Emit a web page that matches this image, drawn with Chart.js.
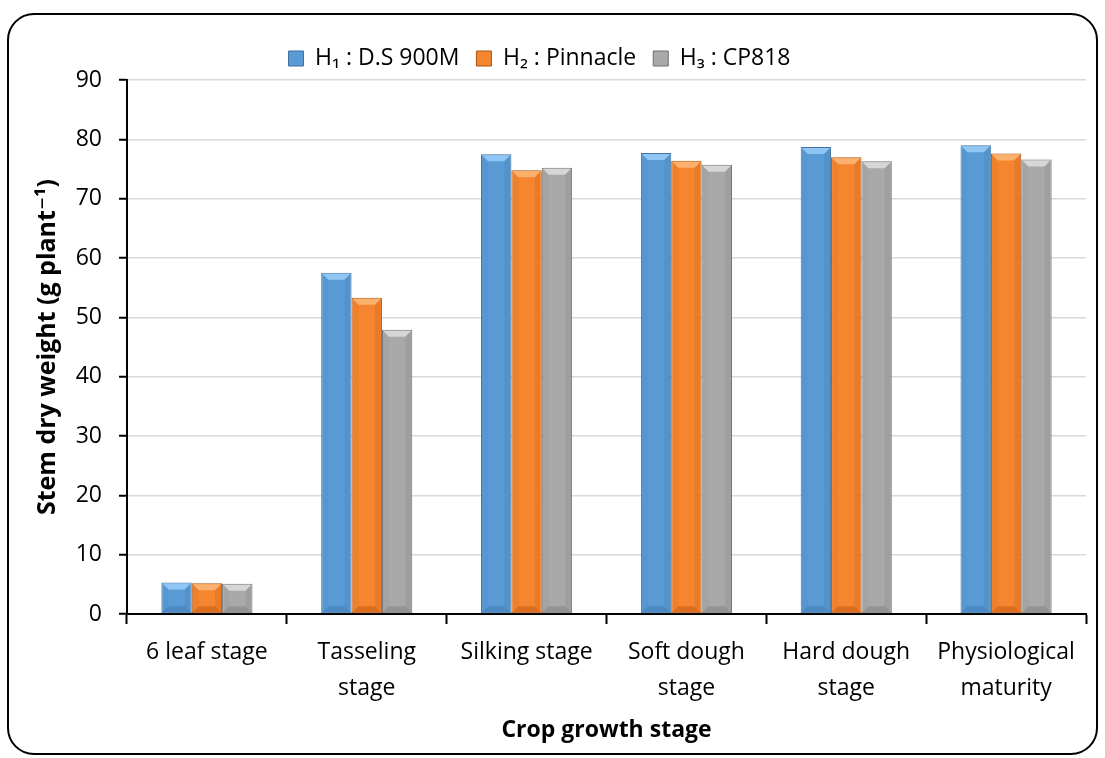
<!DOCTYPE html>
<html>
<head>
<meta charset="utf-8">
<style>
  html, body { margin: 0; padding: 0; background: #ffffff; }
  #wrap { position: relative; width: 1105px; height: 758px; }
  canvas { display: block; }
</style>
<script src="https://cdn.jsdelivr.net/npm/chart.js@4/dist/chart.umd.min.js"></script>
</head>
<body>
<div id="wrap"><canvas id="stemChart" width="1105" height="758"></canvas></div>
<script>
// Growth stages (multi-line labels where the axis wraps them)
const stages = [
  '6 leaf stage',
  ['Tasseling', 'stage'],
  'Silking stage',
  ['Soft dough', 'stage'],
  ['Hard dough', 'stage'],
  ['Physiological', 'maturity']
];

// Hybrid names
const hybridNames = ['H\u2081 : D.S 900M', 'H\u2082 : Pinnacle', 'H\u2083 : CP818'];

// Stem dry weight (g plant-1) per hybrid
const h1Values = [5.3, 57.5, 77.5, 77.7, 78.7, 79.0];
const h2Values = [5.2, 53.3, 74.8, 76.4, 77.0, 77.6];
const h3Values = [5.1, 47.9, 75.2, 75.7, 76.3, 76.6];

// Y axis range and step
const yMin = 0;
const yMax = 90;
const yStep = 10;

const FONT = "'Open Sans', 'DejaVu Sans', sans-serif";

// fill, highlight, shadow, outline
const palettes = [
  { fill: '#5B9BD5', light: '#8FC6F3', dark: '#3F7DB8', edge: '#41719C' },
  { fill: '#F5862F', light: '#FBB06E', dark: '#C85E17', edge: '#A95415' },
  { fill: '#A9A9A9', light: '#D6D6D6', dark: '#858585', edge: '#6E6E6E' }
];

// Rounded frame around the whole figure
const framePlugin = {
  id: 'frame',
  afterDraw(chart) {
    const ctx = chart.ctx;
    ctx.save();
    ctx.lineWidth = 2;
    ctx.strokeStyle = '#000000';
    ctx.beginPath();
    ctx.roundRect(8, 14, chart.width - 16, chart.height - 18, 26);
    ctx.stroke();
    ctx.restore();
  }
};

// Nudge the legend row a little left of the canvas centre
const legendShiftPlugin = {
  id: 'legendShift',
  afterLayout(chart) {
    if (chart.legend) {
      chart.legend.left -= 20;
      chart.legend.right -= 20;
    }
  }
};

// Bevelled faces on each bar, computed from the bar elements' own geometry
const bevelPlugin = {
  id: 'bevel',
  afterDatasetsDraw(chart) {
    const ctx = chart.ctx;
    chart.data.datasets.forEach((ds, di) => {
      const meta = chart.getDatasetMeta(di);
      const pal = palettes[di];
      meta.data.forEach(bar => {
        const p = bar.getProps(['x', 'y', 'base', 'width'], true);
        const x0 = p.x - p.width / 2 + 1;
        const x1 = p.x + p.width / 2 - 1;
        const yt = Math.min(p.y, p.base) + 1;
        const yb = Math.max(p.y, p.base) - 1;
        const b = Math.min(6, (yb - yt) / 2, (x1 - x0) / 2);
        ctx.save();
        // top face
        ctx.fillStyle = pal.light;
        ctx.beginPath();
        ctx.moveTo(x0, yt); ctx.lineTo(x1, yt);
        ctx.lineTo(x1 - b, yt + b); ctx.lineTo(x0 + b, yt + b);
        ctx.closePath(); ctx.fill();
        // right face
        ctx.fillStyle = pal.dark;
        ctx.globalAlpha = 0.28;
        ctx.beginPath();
        ctx.moveTo(x1, yt); ctx.lineTo(x1, yb);
        ctx.lineTo(x1 - b, yb - b); ctx.lineTo(x1 - b, yt + b);
        ctx.closePath(); ctx.fill();
        // left face
        ctx.globalAlpha = 0.12;
        ctx.beginPath();
        ctx.moveTo(x0, yt); ctx.lineTo(x0 + b, yt + b);
        ctx.lineTo(x0 + b, yb - b); ctx.lineTo(x0, yb);
        ctx.closePath(); ctx.fill();
        // bottom face
        ctx.globalAlpha = 0.6;
        ctx.beginPath();
        ctx.moveTo(x0, yb); ctx.lineTo(x0 + b, yb - b);
        ctx.lineTo(x1 - b, yb - b); ctx.lineTo(x1, yb);
        ctx.closePath(); ctx.fill();
        ctx.restore();
      });
    });
  }
};

const seriesValues = [h1Values, h2Values, h3Values];

const datasets = seriesValues.map((vals, i) => ({
  label: hybridNames[i],
  data: vals,
  backgroundColor: palettes[i].fill,
  borderColor: palettes[i].edge,
  borderWidth: 1,
  borderSkipped: false,
  categoryPercentage: 0.57,
  barPercentage: 1.0
}));

new Chart(document.getElementById('stemChart'), {
  type: 'bar',
  data: { labels: stages, datasets },
  plugins: [bevelPlugin, framePlugin, legendShiftPlugin],
  options: {
    responsive: false,
    animation: false,
    devicePixelRatio: 1,
    layout: { padding: { top: 30, left: 33, right: 19, bottom: 0 } },
    plugins: {
      legend: {
        position: 'top',
        align: 'center',
        labels: {
          color: '#000000',
          font: { family: FONT, size: 23 },
          boxWidth: 15,
          boxHeight: 15,
          padding: 17,
          generateLabels(chart) {
            return chart.data.datasets.map((ds, i) => ({
              text: ds.label,
              fillStyle: palettes[i].fill,
              strokeStyle: palettes[i].edge,
              lineWidth: 1,
              datasetIndex: i
            }));
          }
        }
      },
      tooltip: { enabled: false }
    },
    scales: {
      x: {
        afterFit(scale) { scale.height = 144; },
        grid: {
          offset: true,
          drawOnChartArea: false,
          drawTicks: true,
          tickLength: 10,
          tickColor: '#000000',
          tickWidth: 2
        },
        border: { display: true, color: '#000000', width: 2 },
        ticks: {
          color: '#000000',
          font: { family: FONT, size: 23, lineHeight: 1.55 },
          padding: 11,
          maxRotation: 0,
          autoSkip: false
        },
        title: {
          display: true,
          text: 'Crop growth stage',
          color: '#000000',
          font: { family: FONT, size: 23, weight: 'bold' },
          padding: { top: 0, bottom: 14 }
        }
      },
      y: {
        min: yMin,
        max: yMax,
        afterFit(scale) { scale.width = 94; },
        grid: {
          color: '#D9D9D9',
          lineWidth: 1.5,
          drawTicks: true,
          tickLength: 8,
          tickColor: '#000000',
          tickWidth: 2
        },
        border: { display: true, color: '#000000', width: 2 },
        ticks: {
          stepSize: yStep,
          color: '#000000',
          font: { family: FONT, size: 23 },
          padding: 17
        },
        title: {
          display: true,
          text: 'Stem dry weight (g plant\u207B\u00B9)',
          color: '#000000',
          font: { family: FONT, size: 25, weight: 'bold' },
          padding: { top: 0, bottom: 0 }
        }
      }
    }
  }
});
</script>
</body>
</html>
